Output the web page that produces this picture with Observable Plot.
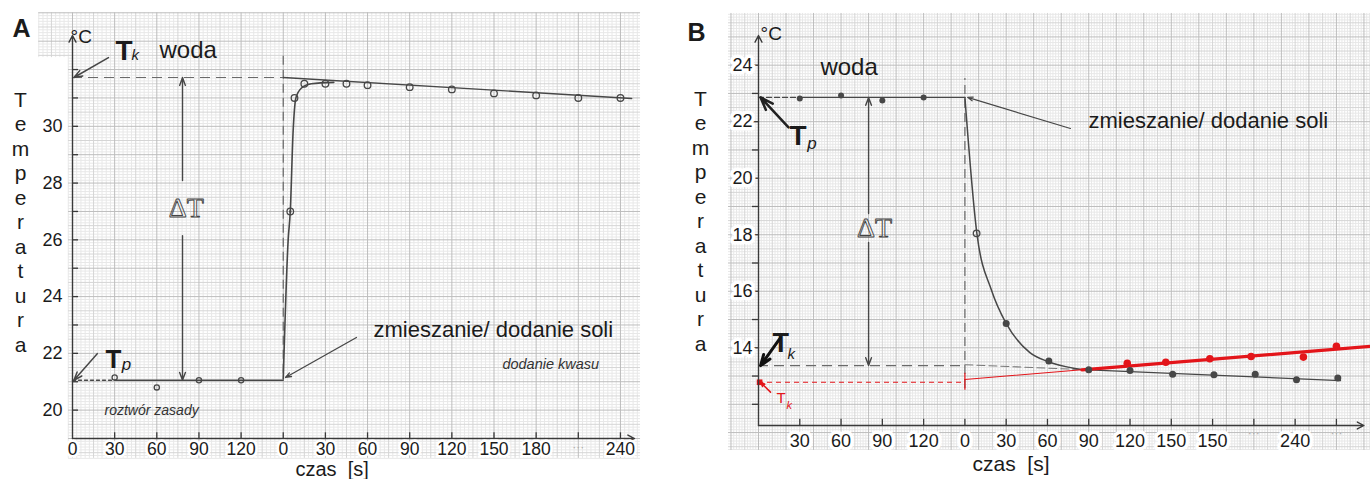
<!DOCTYPE html>
<html><head><meta charset="utf-8">
<script src="https://cdn.jsdelivr.net/npm/d3@7"></script>
<script src="https://cdn.jsdelivr.net/npm/@observablehq/plot@0.6"></script>
<style>
html,body{margin:0;padding:0;background:#fff;}
#wrap{position:relative;width:1370px;height:479px;overflow:hidden;}
#pa{position:absolute;left:0;top:0;}
#pb{position:absolute;left:685px;top:0;}
</style></head>
<body><div id="wrap"><div id="pa"></div><div id="pb"></div></div>
<script>
// ================= DATA =================
// Panel A (neutralisation: roztwór zasady + kwas)
const aTickTimes  = [0, 30, 60, 90, 120, 150, 180, 210, 240, 270, 300, 330, 360, 390];
const aTickLabels = ["0", "30", "60", "90", "120", "0", "30", "60", "90", "120", "150", "180", "···", "240"];
const aYLabels    = [20, 22, 24, 26, 28, 30];
const aMix = 150;            // moment of mixing on the continuous time axis
const aTp = 21.05;           // initial temperature
const aTk = 31.72;           // final (extrapolated) temperature
const aBaseTimes   = [0, 30, 150];
const aBeforeTimes = [30, 60, 90, 120];
const aBeforeTemps = [21.15, 20.8, 21.05, 21.05];
const aRiseTimes   = [0, 3.5, 5, 7, 9, 13, 20, 36];          // s after mixing
const aRiseTemps   = [21.1, 26.0, 27.0, 29.8, 31.0, 31.35, 31.5, 31.55];
const aAfterTimes  = [5, 8, 15, 30, 45, 60, 90, 120, 150, 180, 210, 240];
const aAfterTemps  = [27.0, 31.0, 31.5, 31.5, 31.5, 31.45, 31.38, 31.3, 31.16, 31.09, 31.0, 31.0];
const aFitTimes    = [0, 248];
const aFitTemps    = [31.72, 30.98];

// Panel B (dissolving a salt in water)
const bTickTimes  = [30, 60, 90, 120, 150, 180, 210, 240, 270, 300, 330, 360, 390, 420];
const bTickLabels = ["30", "60", "90", "120", "0", "30", "60", "90", "120", "150", "150", "···", "240", "···"];
const bYLabels    = [14, 16, 18, 20, 22, 24];
const bMix = 150;
const bTp = 22.86;
const bTk = 13.37;
const bTkRed = 12.78;
const bBaseTimes   = [0, 30, 150];
const bBeforeTimes = [30, 60, 90, 120];
const bBeforeTemps = [22.82, 22.93, 22.75, 22.86];
const bFallTimes   = [0, 8.7, 19.4, 30, 47, 60.5, 80, 92];     // s after mixing
const bFallTemps   = [22.86, 18.05, 16.03, 14.86, 13.84, 13.51, 13.27, 13.2];
const bAfterTimes  = [8.5, 30, 61, 90, 120, 151, 181, 211, 241, 271];
const bAfterTemps  = [18.05, 14.86, 13.53, 13.22, 13.2, 13.06, 13.05, 13.06, 12.87, 12.93];
const bFitTimes    = [0, 90, 273];
const bFitTemps    = [13.4, 13.22, 12.84];
const bRedTimes    = [0, 85, 295];
const bRedTemps    = [12.88, 13.22, 14.05];
const bRedPtTimes  = [118, 146, 178, 208, 246, 270];
const bRedPtTemps  = [13.45, 13.49, 13.61, 13.69, 13.67, 14.05];

// ================= STYLE =================
const FONT = '"Liberation Sans", Arial, Helvetica, sans-serif';
const SERIF = '"Liberation Serif", "DejaVu Serif", serif';
const INK = "#1b1b1b", LINE = "#474747", DASH = "#6a6a6a", RED = "#e3151a";
const GRIDC = ["#e8e8e8", "#d5d5d5", "#bdbdbd"];
const LETTERS = "T\ne\nm\np\ne\nr\na\nt\nu\nr\na";

function paperMarks(vert, horiz) {
  const m = [];
  for (const L of [0, 1, 2]) {
    m.push(Plot.ruleX(vert.filter(d => d.level === L), {x: "v", y1: "y1", y2: "y2", stroke: GRIDC[L], strokeWidth: 1}));
    m.push(Plot.ruleY(horiz.filter(d => d.level === L), {y: "v", x1: "x1", x2: "x2", stroke: GRIDC[L], strokeWidth: 1}));
  }
  return m;
}
const lvl = k => (k % 10 === 0 ? 2 : k % 5 === 0 ? 1 : 0);

// ================= PANEL A =================
function plotA() {
  const before = aBeforeTimes.map((t, i) => ({t, T: aBeforeTemps[i]}));
  const rise = aRiseTimes.map((t, i) => ({t: aMix + t, T: aRiseTemps[i]}));
  const after = aAfterTimes.map((t, i) => ({t: aMix + t, T: aAfterTemps[i]}));
  const fit = aFitTimes.map((t, i) => ({t: aMix + t, T: aFitTemps[i]}));
  const ticks = aTickTimes.map((t, i) => ({t, label: aTickLabels[i]}));

  const vert = d3.range(-8, 135).map(k => ({v: 3 * k, y1: k < -1 ? 32.42 : 18.3, y2: 34.0, level: lvl(k)}));
  const horiz = d3.range(183, 341).map(k => ({v: k / 10, x1: k / 10 >= 32.42 ? -24 : -2.8, x2: 404.3, level: lvl(k)}));

  const txt = (s, o) => Plot.text([s], {text: d => d, fill: INK, textAnchor: "start", ...o});
  const arrow = (o) => Plot.arrow([0], {stroke: LINE, strokeWidth: 1.4, headLength: 9, headAngle: 40, ...o});

  return Plot.plot({
    width: 685, height: 479,
    marginLeft: 72, marginRight: 51, marginTop: 35, marginBottom: 41,
    x: {domain: [0, 400], axis: null},
    y: {domain: [19, 33.2], axis: null},
    style: {fontFamily: FONT, background: "transparent", overflow: "visible", color: INK},
    marks: [
      ...paperMarks(vert, horiz),
      // helper dashed lines
      Plot.ruleY([aTk], {x1: 0, x2: aMix, stroke: DASH, strokeWidth: 1.2, strokeDasharray: "10,6"}),
      Plot.ruleX([aMix], {y1: 21.3, y2: 32.6, stroke: DASH, strokeWidth: 1.2, strokeDasharray: "9,5"}),
      // data lines
      Plot.line(aBaseTimes.slice(0, 2), {x: d => d, y: aTp, stroke: LINE, strokeWidth: 1.5, strokeDasharray: "3,3"}),
      Plot.line(aBaseTimes.slice(1), {x: d => d, y: aTp, stroke: LINE, strokeWidth: 1.4}),
      Plot.line(rise, {x: "t", y: "T", curve: "monotone-x", stroke: LINE, strokeWidth: 1.6}),
      Plot.line(fit, {x: "t", y: "T", stroke: LINE, strokeWidth: 1.4}),
      // ΔT double arrow
      arrow({x1: 78.3, y1: 28.09, x2: 78.3, y2: aTk}),
      arrow({x1: 78.3, y1: 26.15, x2: 78.3, y2: aTp}),
      // points
      Plot.dot(before, {x: "t", y: "T", r: 2.6, stroke: LINE, strokeWidth: 1.3, fill: "none"}),
      Plot.dot(after, {x: "t", y: "T", r: 3.3, stroke: LINE, strokeWidth: 1.3, fill: "none"}),
      Plot.dot(after.slice(0, 1), {x: "t", y: "T", r: 1.2, fill: LINE}),
      // axes
      Plot.arrow([0], {x1: 0, y1: 19, x2: 400, y2: 19, stroke: "#3a3a3a", strokeWidth: 1.4, headLength: 8, headAngle: 55}),
      Plot.arrow([0], {x1: 0, y1: 19, x2: 0, y2: 33.2, stroke: "#3a3a3a", strokeWidth: 1.4, headLength: 8, headAngle: 55}),
      Plot.ruleX(aTickTimes.slice(1), {x: d => d, y1: 19, y2: 19.2, stroke: "#3a3a3a", strokeWidth: 1.3}),
      Plot.ruleY(d3.range(20, 33), {y: d => d, x1: 0, x2: 4.3, stroke: "#3a3a3a", strokeWidth: 1.3}),
      Plot.text(ticks, {filter: d => d.label !== "···", x: "t", y: 19, dy: 10.5, text: "label", fontSize: 17.5, fill: INK,
        stroke: "white", strokeWidth: 5, strokeLinejoin: "round", paintOrder: "stroke"}),
      Plot.text(ticks, {filter: d => d.label === "···", x: "t", y: 19, dy: 9, text: "label", fontSize: 12, fill: "#aaa"}),
      Plot.text(aYLabels, {x: 0, y: d => d, dx: -10, text: d => String(d), textAnchor: "end", fontSize: 18, fill: INK}),
      // annotations
      txt("A", {x: -42.7, y: 33.42, fontSize: 25, fontWeight: "bold"}),
      txt("°C", {x: -1.4, y: 33.14, fontSize: 19}),
      txt("T", {x: 30.6, y: 32.64, fontSize: 28, fontWeight: "bold"}),
      txt("k", {x: 42, y: 32.49, fontSize: 15, fontStyle: "italic"}),
      txt("woda", {x: 61.9, y: 32.69, fontSize: 24}),
      arrow({x1: 25.6, y1: 32.42, x2: 1, y2: aTk, strokeWidth: 1.5}),
      txt("T", {x: 23.5, y: 21.76, fontSize: 26, fontWeight: "bold"}),
      txt("p", {x: 35, y: 21.62, fontSize: 17, fontStyle: "italic"}),
      arrow({x1: 17.6, y1: 21.99, x2: 1, y2: aTp, strokeWidth: 1.5}),
      txt("zmieszanie/ dodanie soli", {x: 214.2, y: 22.81, fontSize: 22}),
      arrow({x1: 202.1, y1: 22.56, x2: 151.6, y2: 21.15, strokeWidth: 1.3, headLength: 7}),
      txt("dodanie kwasu", {x: 306, y: 21.63, fontSize: 14.5, fontStyle: "italic", fill: "#333"}),
      txt("roztwór zasady", {x: 22.8, y: 20.0, fontSize: 14, fontStyle: "italic", fill: "#333"}),
      Plot.text(["ΔT"], {x: 81, y: 27.12, text: d => d, fontFamily: SERIF, fontSize: 28, fill: "none", stroke: "#444", strokeWidth: 0.9}),
      Plot.text([LETTERS], {x: -37, y: 26.65, text: d => d, fontSize: 21, lineHeight: 1.167, fill: INK}),
      txt("czas  [s]", {x: 158.7, y: 17.92, fontSize: 20})
    ]
  });
}

// ================= PANEL B =================
function plotB() {
  const before = bBeforeTimes.map((t, i) => ({t, T: bBeforeTemps[i]}));
  const fall = bFallTimes.map((t, i) => ({t: bMix + t, T: bFallTemps[i]}));
  const after = bAfterTimes.map((t, i) => ({t: bMix + t, T: bAfterTemps[i]}));
  const fit = bFitTimes.map((t, i) => ({t: bMix + t, T: bFitTemps[i]}));
  const red = bRedTimes.map((t, i) => ({t: bMix + t, T: bRedTemps[i]}));
  const redPts = bRedPtTimes.map((t, i) => ({t: bMix + t, T: bRedPtTemps[i]}));
  const ticks = bTickTimes.map((t, i) => ({t, label: bTickLabels[i]}));

  const vert = d3.range(-10, 223).map(k => ({v: 2 * k, y1: 10.37, y2: 25.83, level: lvl(k)}));
  const horiz = d3.range(104, 259).map(k => ({v: k / 10, x1: -21.8, x2: 444.8, level: lvl(k)}));

  const txt = (s, o) => Plot.text([s], {text: d => d, fill: INK, textAnchor: "start", ...o});
  const arrow = (o) => Plot.arrow([0], {stroke: LINE, strokeWidth: 1.4, headLength: 9, headAngle: 40, ...o});

  return Plot.plot({
    width: 685, height: 479,
    marginLeft: 73, marginRight: 6.56, marginTop: 35, marginBottom: 54,
    x: {domain: [0, 440], axis: null},
    y: {domain: [11.25, 25.05], axis: null},
    style: {fontFamily: FONT, background: "transparent", overflow: "visible", color: INK},
    marks: [
      ...paperMarks(vert, horiz),
      Plot.ruleY([bTk], {x1: 0, x2: bMix, stroke: DASH, strokeWidth: 1.2, strokeDasharray: "10,6"}),
      Plot.ruleY([bTkRed], {x1: 0, x2: bMix, stroke: RED, strokeWidth: 1.2, strokeDasharray: "5,4"}),
      Plot.ruleX([bMix], {y1: 12.56, y2: 23.53, stroke: DASH, strokeWidth: 1.2, strokeDasharray: "9,5"}),
      Plot.ruleX([bMix], {y1: 12.5, y2: 13.1, stroke: RED, strokeWidth: 1.2}),
      Plot.line(bBaseTimes.slice(0, 2), {x: d => d, y: bTp, stroke: LINE, strokeWidth: 1.4, strokeDasharray: "5,3"}),
      Plot.line(bBaseTimes.slice(1), {x: d => d, y: bTp, stroke: LINE, strokeWidth: 1.4}),
      Plot.line(fit.slice(0, 2), {x: "t", y: "T", stroke: "#777", strokeWidth: 1.1, strokeDasharray: "8,4"}),
      Plot.line(fit.slice(1), {x: "t", y: "T", stroke: LINE, strokeWidth: 1.3}),
      Plot.line(fall, {x: "t", y: "T", curve: "monotone-x", stroke: LINE, strokeWidth: 1.5}),
      Plot.line(red.slice(0, 2), {x: "t", y: "T", stroke: RED, strokeWidth: 1.1}),
      Plot.line(red.slice(1), {x: "t", y: "T", stroke: RED, strokeWidth: 3.2}),
      // ΔT
      arrow({x1: 80, y1: 18.75, x2: 80, y2: bTp}),
      arrow({x1: 80, y1: 17.73, x2: 80, y2: bTk}),
      // points
      Plot.dot(before, {x: "t", y: "T", r: 3, fill: LINE}),
      Plot.dot(after.slice(0, 1), {x: "t", y: "T", r: 3.3, stroke: LINE, strokeWidth: 1.3, fill: "none"}),
      Plot.dot(after.slice(1), {x: "t", y: "T", r: 3.5, fill: LINE}),
      Plot.dot(redPts, {x: "t", y: "T", r: 3.8, fill: RED}),
      Plot.dot([0], {x: 0.8, y: bTkRed, r: 3.2, symbol: "square", fill: RED}),
      // axes
      Plot.arrow([0], {x1: 0, y1: 11.25, x2: 440, y2: 11.25, stroke: "#3a3a3a", strokeWidth: 1.4, headLength: 8, headAngle: 55}),
      Plot.arrow([0], {x1: 0, y1: 11.25, x2: 0, y2: 25.05, stroke: "#3a3a3a", strokeWidth: 1.4, headLength: 8, headAngle: 55}),
      Plot.ruleX(bTickTimes, {x: d => d, y1: 11.25, y2: 11.47, stroke: "#3a3a3a", strokeWidth: 1.3}),
      Plot.ruleY(d3.range(12, 25), {y: d => d, x1: -4.4, x2: 0, stroke: "#3a3a3a", strokeWidth: 1.3}),
      Plot.text(ticks, {filter: d => d.label !== "···", x: "t", y: 11.25, dy: 15.5, text: "label", fontSize: 18, fill: INK,
        stroke: "white", strokeWidth: 7, strokeLinejoin: "round", paintOrder: "stroke"}),
      Plot.text(ticks, {filter: d => d.label === "···", x: "t", y: 11.25, dy: 8, text: "label", fontSize: 12, fill: "#aaa"}),
      Plot.text(bYLabels, {x: 0, y: d => d, dx: -6, text: d => String(d), textAnchor: "end", fontSize: 18, fill: INK,
        stroke: "white", strokeWidth: 7, strokeLinejoin: "round", paintOrder: "stroke"}),
      // annotations
      txt("B", {x: -51.6, y: 25.15, fontSize: 25, fontWeight: "bold"}),
      txt("°C", {x: 1.5, y: 25.12, fontSize: 19}),
      txt("woda", {x: 45, y: 23.91, fontSize: 24}),
      txt("T", {x: 22.5, y: 21.51, fontSize: 28, fontWeight: "bold"}),
      txt("p", {x: 35.5, y: 21.21, fontSize: 17, fontStyle: "italic"}),
      arrow({x1: 21.8, y1: 21.8, x2: 1.5, y2: bTp, strokeWidth: 2.5, stroke: "#222", headLength: 10}),
      txt("zmieszanie/ dodanie soli", {x: 239.8, y: 22.04, fontSize: 22}),
      arrow({x1: 226.7, y1: 21.76, x2: 152, y2: bTp, strokeWidth: 1.2, headLength: 7}),
      Plot.text(["ΔT"], {x: 84.3, y: 18.22, text: d => d, fontFamily: SERIF, fontSize: 28, fill: "none", stroke: "#444", strokeWidth: 0.9}),
      txt("T", {x: 10.2, y: 14.14, fontSize: 27, fontWeight: "bold"}),
      txt("k", {x: 21.1, y: 13.79, fontSize: 15, fontStyle: "italic"}),
      arrow({x1: 16, y1: 14.36, x2: 1.5, y2: bTk, strokeWidth: 3, stroke: "#111", headLength: 9}),
      txt("T", {x: 13.1, y: 12.2, fontSize: 15, fill: RED}),
      txt("k", {x: 20.3, y: 11.97, fontSize: 11, fontStyle: "italic", fill: RED}),
      arrow({x1: 8.7, y1: 12.43, x2: 1.5, y2: bTkRed, strokeWidth: 1.5, stroke: RED, headLength: 6}),
      Plot.text([LETTERS], {x: -42.15, y: 18.51, text: d => d, fontSize: 21, lineHeight: 1.167, fill: INK}),
      txt("czas  [s]", {x: 155.5, y: 9.89, fontSize: 21})
    ]
  });
}

document.getElementById("pa").appendChild(plotA());
document.getElementById("pb").appendChild(plotB());
</script>
</body></html>
